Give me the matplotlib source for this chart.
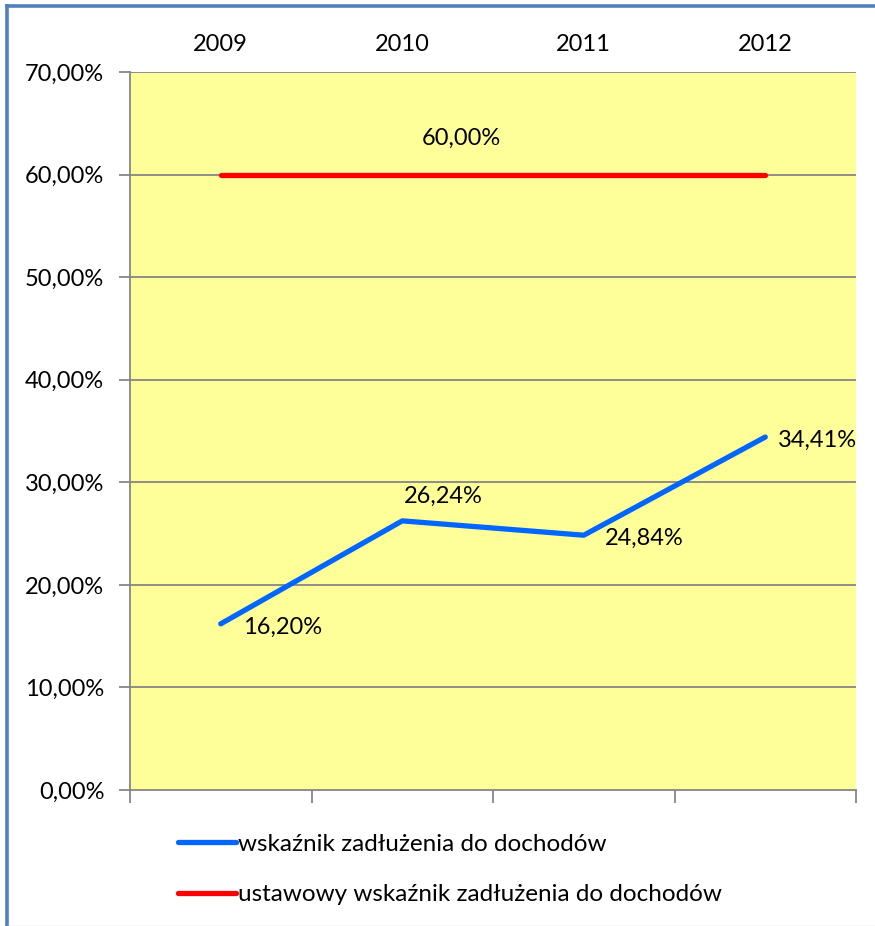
import numpy as np
import matplotlib.pyplot as plt
from matplotlib import rc
from matplotlib.lines import Line2D

rc('font', **{'family': 'sans-serif', 'sans-serif': ['Lato', 'DejaVu Sans']})

years = ['2009', '2010', '2011', '2012']
ratio = [16.20, 26.24, 24.84, 34.41]
limit = [60.0, 60.0, 60.0, 60.0]
label_ratio = 'wskaźnik zadłużenia do dochodów'
label_limit = 'ustawowy wskaźnik zadłużenia do dochodów'

def pct(v):
    return ('%.2f%%' % v).replace('.', ',')

W, H = 875, 926
fig = plt.figure(figsize=(W / 100, H / 100), dpi=100)
fig.patch.set_facecolor('white')

# outer chart border (blue, only left and top visible)
border = '#4F81BD'
fig.add_artist(Line2D([7 / W, 7 / W], [0, 1 - 6 / H], color=border, lw=2.6))
fig.add_artist(Line2D([7 / W, 1], [1 - 6 / H, 1 - 6 / H], color=border, lw=2.6))
fig.add_artist(Line2D([7 / W, 1], [0.5 / H, 0.5 / H], color='#D9D9D9', lw=1))

ax = fig.add_axes([130 / W, (H - 790) / H, 726 / W, 718 / H])
ax.set_facecolor('#FFFF99')
x = np.arange(len(years))

grid_c = '#868686'
for v in range(10, 71, 10):
    ax.axhline(v, color=grid_c, lw=1.3, zorder=1)

ax.plot(x, ratio, color='#0066FF', lw=3.8, solid_capstyle='round', solid_joinstyle='round', zorder=3)
ax.plot(x, limit, color='#FF0000', lw=3.8, solid_capstyle='round', zorder=3)

ax.set_xlim(-0.5, 3.5)
ax.set_ylim(0, 70)
ax.set_yticks(range(0, 71, 10))
ax.set_yticklabels([pct(v) for v in range(0, 71, 10)])
ax.set_xticks(x)
ax.set_xticklabels(years)
ax.set_xticks(np.arange(-0.5, 3.6, 1), minor=True)
ax.tick_params(axis='x', which='major', bottom=False, top=False, labelbottom=False,
               labeltop=True, pad=9, labelsize=17)
ax.tick_params(axis='x', which='minor', bottom=True, top=False, length=9, width=1.3,
               color=grid_c, direction='out')
ax.tick_params(axis='y', length=8, width=1.3, color=grid_c, pad=10.5, labelsize=17)
for s in ['top', 'right']:
    ax.spines[s].set_visible(False)
for s in ['left', 'bottom']:
    ax.spines[s].set_color(grid_c)
    ax.spines[s].set_linewidth(1.3)

# data labels
offs = [(62, -4), (41, 25), (60, -3), (52, -3)]
for i, v in enumerate(ratio):
    ax.annotate(pct(v), (x[i], v), xytext=offs[i], textcoords='offset pixels',
                ha='center', va='center', fontsize=17)
ax.annotate(pct(limit[1]), (x[1], limit[1]), xytext=(59, 36), textcoords='offset pixels',
            ha='center', va='center', fontsize=17)

handles = [Line2D([], [], color='#0066FF', lw=3.8, solid_capstyle='round'),
           Line2D([], [], color='#FF0000', lw=3.8, solid_capstyle='round')]
fig.legend(handles, [label_ratio, label_limit], loc='upper left',
           bbox_to_anchor=(156 / W, 1 - 812 / H), frameon=False, fontsize=17.5,
           handlelength=2.4, handletextpad=0.08, labelspacing=1.2)

fig.savefig('out.png', dpi=100)
